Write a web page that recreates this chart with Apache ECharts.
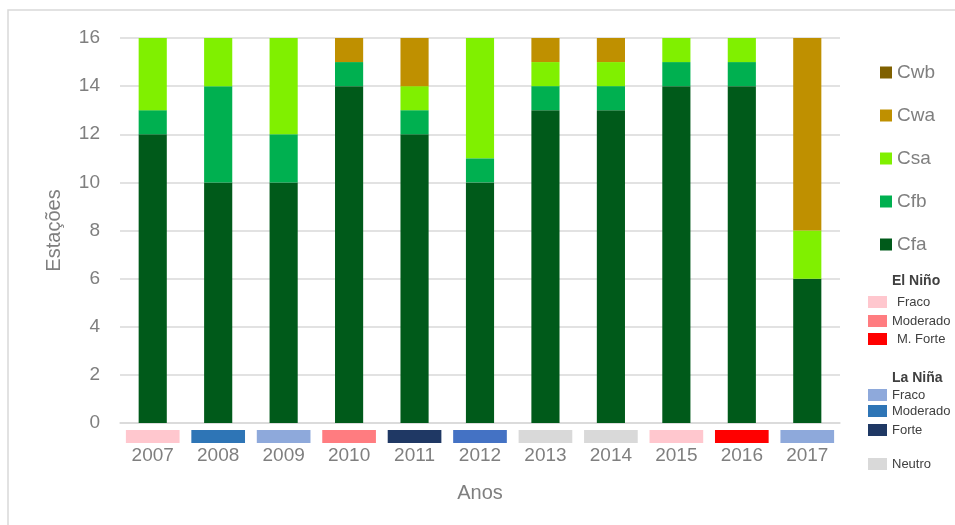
<!DOCTYPE html>
<html>
<head>
<meta charset="utf-8">
<script src="https://cdn.jsdelivr.net/npm/echarts@6/dist/echarts.min.js"></script>
<style>html,body{margin:0;padding:0;background:#fff;}#c{width:955px;height:525px;}</style>
</head>
<body>
<div id="c"></div>
<script>
const years = ['2007','2008','2009','2010','2011','2012','2013','2014','2015','2016','2017'];
const cfa = [12,10,10,14,12,10,13,13,14,14,6];
const cfb = [1,4,2,1,1,1,1,1,1,1,0];
const csa = [3,2,4,0,1,5,1,1,1,1,2];
const cwa = [0,0,0,1,2,0,1,1,0,0,8];
const cwb = [0,0,0,0,0,0,0,0,0,0,0];
const ensoPhase = ['EN Fraco','LN Moderado','LN Fraco','EN Moderado','LN Forte','LN Moderado2','Neutro','Neutro','EN Fraco','EN M. Forte','LN Fraco'];
const yTicks = [0,2,4,6,8,10,12,14,16];

const phaseColor = {
  'EN Fraco':'#FFC7CE','EN Moderado':'#FF7C80','EN M. Forte':'#FF0000',
  'LN Fraco':'#8EA9DB','LN Moderado':'#2E75B6','LN Moderado2':'#4472C4','LN Forte':'#1F3864',
  'Neutro':'#D9D9D9'
};
const colors = {Cfa:'#005A1A', Cfb:'#00B050', Csa:'#80F000', Cwa:'#BF9000', Cwb:'#7F6000'};
const FONT = 'Liberation Sans';

const chart = echarts.init(document.getElementById('c'));
function barSeries(name, data){
  return {name, type:'bar', stack:'s', data, barWidth:'43%', itemStyle:{color:colors[name]}, xAxisIndex:0, yAxisIndex:0};
}
const legendX = 868, boxW = 19, boxH = 12, txtX = 892;
function box(y, color){ return {type:'rect', shape:{x:legendX, y:y-6, width:boxW, height:boxH}, style:{fill:color}}; }
function txt(x, y, t, size, weight){ return {type:'text', x, y, style:{text:t, fill:'#404040', font:(weight||'normal')+' '+size+'px '+FONT, textVerticalAlign:'middle'}}; }

chart.setOption({
  animation:false,
  textStyle:{fontFamily:FONT},
  grid:[
    {left:120, right:115, top:38, bottom:102},
    {left:120, right:115, top:430, height:13}
  ],
  xAxis:[
    {type:'category', data:years, gridIndex:0, axisLine:{lineStyle:{color:'#d9d9d9', width:1.5}}, axisTick:{show:false}, axisLabel:{show:false}},
    {type:'category', data:years, gridIndex:1, axisLine:{show:false}, axisTick:{show:false},
     axisLabel:{color:'#7f7f7f', fontSize:19, margin:3},
     name:'Anos', nameLocation:'middle', nameGap:40, nameTextStyle:{color:'#7f7f7f', fontSize:20}}
  ],
  yAxis:[
    {type:'value', gridIndex:0, min:yTicks[0], max:yTicks[yTicks.length-1], interval:2,
     axisLabel:{color:'#7f7f7f', fontSize:19, margin:20},
     splitLine:{lineStyle:{color:'#d9d9d9', width:1.5}}, axisLine:{show:false}, axisTick:{show:false},
     name:'Estações', nameLocation:'middle', nameGap:56, nameRotate:90, nameTextStyle:{color:'#7f7f7f', fontSize:20}},
    {type:'value', gridIndex:1, min:0, max:1, show:false}
  ],
  legend:{
    orient:'vertical', left:875, top:58, itemWidth:12, itemHeight:12, itemGap:24,
    data:['Cwb','Cwa','Csa','Cfb','Cfa'],
    textStyle:{color:'#7f7f7f', fontSize:19}, icon:'rect'
  },
  series:[
    barSeries('Cfa', cfa), barSeries('Cfb', cfb), barSeries('Csa', csa), barSeries('Cwa', cwa), barSeries('Cwb', cwb),
    {type:'bar', xAxisIndex:1, yAxisIndex:1, barWidth:'82%',
     data: ensoPhase.map(p => ({value:1, itemStyle:{color:phaseColor[p]}})), silent:true}
  ],
  graphic:[
    {type:'rect', shape:{x:8, y:10, width:1000, height:600}, style:{fill:'none', stroke:'#d9d9d9', lineWidth:1.5}, silent:true},
    txt(892, 281, 'El Niño', 14, 'bold'),
    box(302, phaseColor['EN Fraco']), txt(897, 302, 'Fraco', 13),
    box(321, phaseColor['EN Moderado']), txt(txtX, 321, 'Moderado', 13),
    box(339, phaseColor['EN M. Forte']), txt(897, 339, 'M. Forte', 13),
    txt(892, 378, 'La Niña', 14, 'bold'),
    box(395, phaseColor['LN Fraco']), txt(txtX, 395, 'Fraco', 13),
    box(411, phaseColor['LN Moderado']), txt(txtX, 411, 'Moderado', 13),
    box(430, phaseColor['LN Forte']), txt(txtX, 430, 'Forte', 13),
    box(464, phaseColor['Neutro']), txt(txtX, 464, 'Neutro', 13)
  ]
});
</script>
</body>
</html>
